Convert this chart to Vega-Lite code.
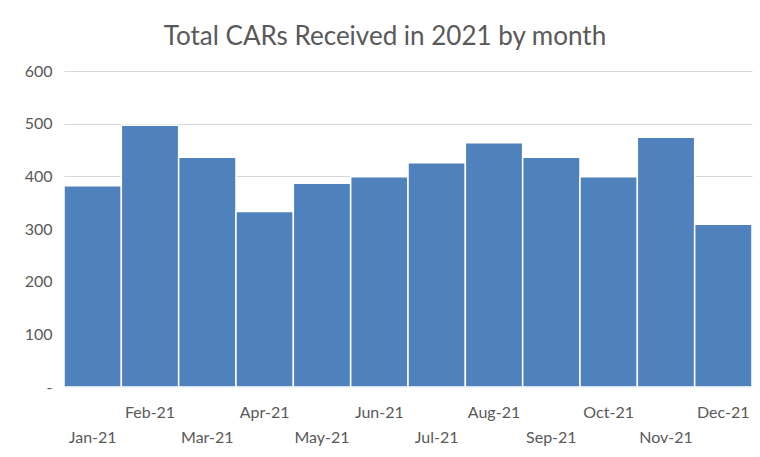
{
  "$schema": "https://vega.github.io/schema/vega-lite/v6.json",
  "width": 688,
  "height": 316,
  "autosize": {"type": "none"},
  "padding": {"left": 64, "top": 71, "right": 8, "bottom": 70},
  "background": "white",
  "title": {
    "text": "Total CARs Received in 2021 by month",
    "font": "Lato",
    "fontSize": 26,
    "fontWeight": "normal",
    "color": "#595959",
    "anchor": "middle",
    "dx": -23,
    "offset": 13
  },
  "data": {
    "values": [
      {"month": "Jan-21", "cars": 382},
      {"month": "Feb-21", "cars": 497},
      {"month": "Mar-21", "cars": 436},
      {"month": "Apr-21", "cars": 333},
      {"month": "May-21", "cars": 387},
      {"month": "Jun-21", "cars": 399},
      {"month": "Jul-21", "cars": 426},
      {"month": "Aug-21", "cars": 464},
      {"month": "Sep-21", "cars": 436},
      {"month": "Oct-21", "cars": 399},
      {"month": "Nov-21", "cars": 474},
      {"month": "Dec-21", "cars": 309}
    ]
  },
  "mark": {"type": "bar", "color": "#4f81bd", "stroke": "white", "strokeWidth": 1.5},
  "encoding": {
    "x": {
      "field": "month",
      "type": "ordinal",
      "sort": null,
      "scale": {"paddingInner": 0, "paddingOuter": 0},
      "axis": {
        "title": null,
        "labelAngle": 0,
        "ticks": false,
        "domain": true,
        "domainColor": "#d9d9d9",
        "labelFont": "Lato",
        "labelFontSize": 16,
        "labelColor": "#595959",
        "labelPadding": {
          "condition": {"test": "indexof(['Feb-21','Apr-21','Jun-21','Aug-21','Oct-21','Dec-21'], datum.value) >= 0", "value": 17},
          "value": 42
        }
      }
    },
    "y": {
      "field": "cars",
      "type": "quantitative",
      "scale": {"domain": [0, 600]},
      "axis": {
        "title": null,
        "values": [0, 100, 200, 300, 400, 500, 600],
        "labelExpr": "datum.value == 0 ? '-' : datum.label",
        "ticks": false,
        "domain": false,
        "gridColor": "#d9d9d9",
        "gridWidth": 1,
        "labelFont": "Lato",
        "labelFontSize": 16,
        "labelColor": "#595959",
        "labelPadding": 12
      }
    }
  },
  "config": {"view": {"stroke": null}}
}
